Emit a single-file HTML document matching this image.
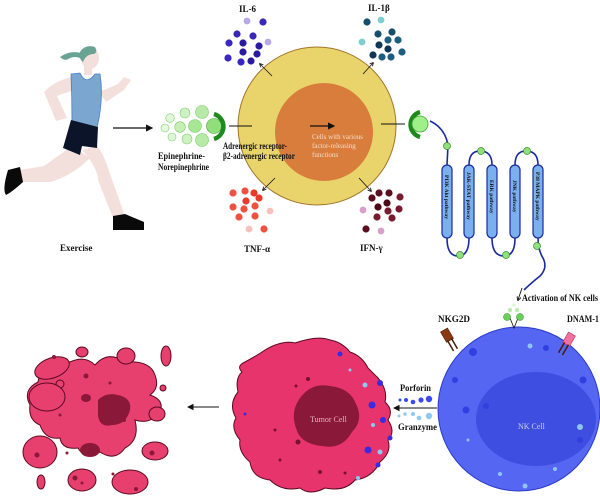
<!DOCTYPE html>
<html><head><meta charset="utf-8"><style>
html,body{margin:0;padding:0;background:#fff;width:600px;height:501px;overflow:hidden}
svg{display:block}
.l{font-family:"Liberation Serif",serif;font-weight:bold;font-size:9px;fill:#111}
</style></head><body>
<svg width="600" height="501" viewBox="0 0 600 501" xmlns="http://www.w3.org/2000/svg">
<defs>
<marker id="ah" markerWidth="6" markerHeight="6" refX="5" refY="3" orient="auto"><path d="M0,0 L6,3 L0,6 z" fill="#111"/></marker>
<marker id="as" markerWidth="5" markerHeight="5" refX="4" refY="2.5" orient="auto"><path d="M0,0 L5,2.5 L0,5" fill="none" stroke="#111" stroke-width="1"/></marker>
</defs>

<!-- runner -->
<g>
<path d="M72,146 Q55,158 44,166 L20,170 L22,182 L50,182 Q72,176 90,158 Z" fill="#f3e0dc"/>
<path d="M82,150 Q98,168 98,180 L113,218 L125,216 L110,174 Q104,154 97,146 Z" fill="#f3e0dc"/>
<path d="M76,76 Q55,80 44,92 L56,121 L67,118 L57,96 Q70,91 82,88 Z" fill="#f3e0dc"/>
<path d="M99,92 L106,102 L124,90 L131,80 L124,77 L118,84 L104,90 Z" fill="#f3e0dc"/>
<rect x="84" y="60" width="8" height="15" fill="#f3e0dc"/>
<ellipse cx="90" cy="58" rx="9" ry="11" fill="#f3e0dc"/>
<path d="M80,52 Q85,44 95,47 Q98,52 94,54 Q86,54 83,62 Q78,58 80,52 Z" fill="#6aa394"/>
<path d="M81,53 Q70,50 60,57 Q65,62 70,58 Q75,56 80,58 Z" fill="#6aa394"/>
<path d="M71,74 L80,73 Q86,86 95,74 L100,74 Q104,98 97,128 L72,122 Q72,98 71,74 Z" fill="#7aa6cf" stroke="#4a7fc4" stroke-width="0.8"/>
<path d="M71,120 L98,127 L97,148 L82,146 L80,155 L63,148 Z" fill="#0b1428"/>
<path d="M8,170 L20,167 L23,182 Q12,192 6,195 Q2,190 8,170 Z" fill="#0a0a0a"/>
<path d="M113,216 L125,214 L144,222 L144,230 L113,230 Z" fill="#0a0a0a"/>
</g>
<text class="l" x="60" y="251">Exercise</text>
<line x1="113" y1="128" x2="152" y2="128" stroke="#111" stroke-width="1.2" marker-end="url(#ah)"/>

<!-- main cell -->
<circle cx="317" cy="126" r="79" fill="#e8d46a" stroke="#a4752a" stroke-width="1"/>
<circle cx="324" cy="132" r="49" fill="#d97d3c"/>
<line x1="310" y1="126" x2="334" y2="126" stroke="#111" stroke-width="1.2" marker-end="url(#ah)"/>
<g font-family="Liberation Serif,serif" font-size="7" fill="#f5dcc8">
<text x="312" y="139">Cells with various</text>
<text x="312" y="148">factor-releasing</text>
<text x="312" y="157">functions</text>
</g>

<!-- epinephrine -->
<g stroke="#7ccf6a" stroke-width="0.6">
<circle cx="202" cy="112" r="6.5" fill="#b6eaa6"/>
<circle cx="185" cy="113" r="5" fill="#cdf1c0"/>
<circle cx="170" cy="118" r="4.3" fill="#e0f6d8"/>
<circle cx="195" cy="126" r="6.5" fill="#a8e695"/>
<circle cx="180" cy="127" r="5.3" fill="#c5efb7"/>
<circle cx="165" cy="128" r="4" fill="#e6f8e0"/>
<circle cx="202" cy="140" r="6.5" fill="#b6eaa6"/>
<circle cx="187" cy="139" r="5" fill="#cdf1c0"/>
<circle cx="172" cy="137" r="4" fill="#e0f6d8"/>
<circle cx="214" cy="126" r="7.5" fill="#8fe07c" stroke="#4aa33a"/>
</g>
<path d="M214,114 A13,13 0 0 1 214,139" fill="none" stroke="#1e8a1e" stroke-width="4.5"/>
<line x1="229" y1="126" x2="252" y2="126" stroke="#111" stroke-width="1"/>
<text class="l" x="223" y="149" textLength="64" lengthAdjust="spacingAndGlyphs">Adrenergic receptor-</text>
<text class="l" x="223" y="159" textLength="72" lengthAdjust="spacingAndGlyphs">β2-adrenergic receptor</text>
<text class="l" x="158" y="159" textLength="47" lengthAdjust="spacingAndGlyphs">Epinephrine-</text>
<text class="l" x="158" y="170" textLength="51" lengthAdjust="spacingAndGlyphs">Norepinephrine</text>

<line x1="381" y1="124" x2="405" y2="124" stroke="#111" stroke-width="1"/>
<path d="M420,112 A13,13 0 0 0 420,137" fill="none" stroke="#1e8a1e" stroke-width="4.5"/>
<circle cx="420" cy="124" r="8" fill="#9ff08a" stroke="#4aa33a" stroke-width="0.8"/>

<!-- cytokine arrows -->
<g stroke="#111" stroke-width="0.8">
<line x1="272" y1="76" x2="260" y2="64" marker-end="url(#as)"/>
<line x1="363" y1="74" x2="373" y2="63" marker-end="url(#as)"/>
<line x1="275" y1="178" x2="263" y2="190" marker-end="url(#as)"/>
<line x1="359" y1="178" x2="371" y2="191" marker-end="url(#as)"/>
</g>
<text class="l" x="239" y="12" font-size="10">IL-6</text>
<text class="l" x="368" y="11" font-size="10">IL-1β</text>
<text class="l" x="244" y="252" font-size="10">TNF-α</text>
<text class="l" x="360" y="251" font-size="10">IFN-γ</text>

<g>
<circle cx="247" cy="21" r="3.4" fill="#b7a8e6"/><circle cx="263" cy="22" r="3.6" fill="#3a26b8"/>
<circle cx="237" cy="34" r="3.6" fill="#3a26b8"/><circle cx="253" cy="36" r="3.6" fill="#3a26b8"/>
<circle cx="268" cy="42" r="3.4" fill="#b7a8e6"/><circle cx="229" cy="43" r="3.6" fill="#3a26c4"/>
<circle cx="243" cy="43" r="3.6" fill="#2a1a9e"/><circle cx="259" cy="46" r="3.6" fill="#2a1a9e"/>
<circle cx="243" cy="52" r="3.6" fill="#2a1a9e"/><circle cx="228" cy="58" r="3.6" fill="#3a26c4"/>
<circle cx="241" cy="62" r="3.6" fill="#3a26c4"/><circle cx="251" cy="61" r="3.6" fill="#2a1a9e"/>
<circle cx="257" cy="54" r="3.6" fill="#2a1a9e"/>
</g>
<g>
<circle cx="367" cy="22" r="3.6" fill="#174e6e"/><circle cx="381" cy="20" r="3.4" fill="#7ccfcf"/>
<circle cx="378" cy="34" r="3.6" fill="#174e6e"/><circle cx="392" cy="32" r="3.6" fill="#174e6e"/>
<circle cx="362" cy="42" r="3.4" fill="#7ccfcf"/><circle cx="388" cy="40" r="3.6" fill="#1d5d80"/>
<circle cx="398" cy="40" r="3.6" fill="#1d5d80"/><circle cx="379" cy="45" r="3.6" fill="#0f3558"/>
<circle cx="388" cy="49" r="3.6" fill="#0f3558"/><circle cx="402" cy="52" r="3.6" fill="#1d5d80"/>
<circle cx="373" cy="55" r="3.6" fill="#0f3558"/><circle cx="382" cy="57" r="3.6" fill="#1d5d80"/>
<circle cx="391" cy="57" r="3.6" fill="#1d5d80"/>
</g>
<g>
<circle cx="233" cy="193" r="3.6" fill="#f05040"/><circle cx="245" cy="191" r="3.6" fill="#f05040"/>
<circle cx="254" cy="193" r="3.6" fill="#e83a2a"/><circle cx="259" cy="198" r="3.6" fill="#e83a2a"/>
<circle cx="246" cy="201" r="3.6" fill="#e83a2a"/><circle cx="233" cy="207" r="3.6" fill="#f05040"/>
<circle cx="244" cy="209" r="3.6" fill="#f05040"/><circle cx="255" cy="206" r="3.6" fill="#f05040"/>
<circle cx="239" cy="217" r="3.6" fill="#f05040"/><circle cx="255" cy="216" r="3.6" fill="#f05040"/>
<circle cx="270" cy="211" r="3.4" fill="#f7c0bc"/><circle cx="249" cy="229" r="3.4" fill="#f7c0bc"/>
<circle cx="264" cy="229" r="3.6" fill="#f05040"/>
</g>
<g>
<circle cx="379" cy="193" r="3.6" fill="#5a0e1e"/><circle cx="389" cy="193" r="3.6" fill="#5a0e1e"/>
<circle cx="400" cy="197" r="3.6" fill="#7a1a30"/><circle cx="372" cy="198" r="3.6" fill="#5a0e1e"/>
<circle cx="387" cy="203" r="3.6" fill="#4a0a18"/><circle cx="378" cy="207" r="3.6" fill="#4a0a18"/>
<circle cx="388" cy="211" r="3.6" fill="#7a1a30"/><circle cx="399" cy="209" r="3.6" fill="#7a1a30"/>
<circle cx="363" cy="210" r="3.4" fill="#d8a0c8"/><circle cx="377" cy="217" r="3.6" fill="#7a1a30"/>
<circle cx="392" cy="218" r="3.6" fill="#7a1a30"/><circle cx="366" cy="229" r="3.6" fill="#5a0e1e"/>
<circle cx="381" cy="231" r="3.4" fill="#d8a0c8"/>
</g>

<!-- pathways -->
<g fill="none" stroke="#1a2a9e" stroke-width="1.6">
<path d="M430,121 Q445,128 448,145 L447,165"/>
<path d="M447,238 Q447,256 458,256 Q469,256 469,238"/>
<path d="M469,165 Q469,151 480,151 Q492,151 492,165"/>
<path d="M492,238 Q492,256 504,256 Q515,256 515,238"/>
<path d="M515,165 Q515,151 526,151 Q538,151 538,165"/>
<path d="M538,238 Q538,250 543,258 Q548,268 540,276 Q530,284 524,290"/>
<path d="M522,288 L518,300" stroke="#111" stroke-width="0.9" marker-end="url(#as)"/>
</g>
<g fill="#7ab0ee" stroke="#1a2a9e" stroke-width="1.2">
<rect x="442" y="165" width="10" height="73" rx="5"/>
<rect x="464" y="165" width="10" height="73" rx="5"/>
<rect x="487" y="165" width="10" height="73" rx="5"/>
<rect x="510" y="165" width="10" height="73" rx="5"/>
<rect x="533" y="165" width="10" height="73" rx="5"/>
</g>
<g font-family="Liberation Serif,serif" font-weight="bold" font-size="5.5" fill="#111">
<text transform="translate(445,175) rotate(90)">PI3K Akt pathway</text>
<text transform="translate(467,172) rotate(90)">JAK-STAT pathway</text>
<text transform="translate(490,180) rotate(90)">ERK pathway</text>
<text transform="translate(513,180) rotate(90)">JNK pathway</text>
<text transform="translate(536,172) rotate(90)">P38 MAPK pathway</text>
</g>
<g fill="#8fe07c" stroke="#3a8a2a" stroke-width="0.7">
<circle cx="447" cy="146" r="3.5"/><circle cx="481" cy="151" r="3.5"/><circle cx="527" cy="151" r="3.5"/>
<circle cx="460" cy="255" r="3.5"/><circle cx="506" cy="255" r="3.5"/><circle cx="537" cy="246" r="3.5"/>
</g>
<text class="l" x="522" y="301" font-size="8.5" textLength="76" lengthAdjust="spacingAndGlyphs">Activation of NK cells</text>

<!-- NK cell -->
<ellipse cx="519" cy="409" rx="81" ry="82" fill="#5566f2" stroke="#2d3cc8" stroke-width="1"/>
<ellipse cx="536" cy="419" rx="60" ry="47" fill="#3e4ee0"/>
<g fill="#3040e0"><circle cx="473" cy="352" r="4"/><circle cx="546" cy="348" r="3"/><circle cx="583" cy="380" r="3.5"/><circle cx="466" cy="410" r="3.5"/><circle cx="455" cy="380" r="3"/><circle cx="486" cy="406" r="3"/><circle cx="580" cy="440" r="3"/></g>
<g fill="#8fc4f4"><circle cx="530" cy="346" r="2.5"/><circle cx="580" cy="427" r="3"/><circle cx="555" cy="469" r="2"/><circle cx="500" cy="474" r="2"/><circle cx="468" cy="440" r="1.5"/><circle cx="525" cy="486" r="2.5"/></g>
<text x="518" y="429" font-family="Liberation Serif,serif" font-size="8" fill="#c8d0ff">NK Cell</text>
<g transform="translate(444,330) rotate(-30)"><rect x="-4" y="0" width="8" height="12" fill="#8a3a10" stroke="#4a1a08" stroke-width="0.6"/><rect x="-3" y="11" width="1.5" height="12" fill="#4a1a08"/><rect x="1.5" y="11" width="1.5" height="12" fill="#4a1a08"/></g>
<g transform="translate(572,334) rotate(30)"><rect x="-4" y="0" width="8" height="12" fill="#f070a0" stroke="#b03060" stroke-width="0.6"/><rect x="-3" y="11" width="1.5" height="12" fill="#4a1a08"/><rect x="1.5" y="11" width="1.5" height="12" fill="#4a1a08"/></g>
<g><path d="M510,318 L514,328 L518,318" fill="none" stroke="#111" stroke-width="0.8"/><circle cx="507" cy="317" r="3.5" fill="#6ad05a" stroke="#2a7a2a" stroke-width="0.5"/><circle cx="520" cy="317" r="3.5" fill="#6ad05a" stroke="#2a7a2a" stroke-width="0.5"/><circle cx="510" cy="310" r="2" fill="#b6eaa6"/><circle cx="517" cy="310" r="2" fill="#b6eaa6"/><circle cx="514" cy="305" r="1.8" fill="#dff6d8"/></g>
<text class="l" x="438" y="322" textLength="32" lengthAdjust="spacingAndGlyphs">NKG2D</text>
<text class="l" x="567" y="322" textLength="32" lengthAdjust="spacingAndGlyphs">DNAM-1</text>

<!-- porforin/granzyme -->
<text class="l" x="400" y="391" textLength="31" lengthAdjust="spacingAndGlyphs">Porforin</text>
<text class="l" x="398" y="430" textLength="39" lengthAdjust="spacingAndGlyphs">Granzyme</text>
<line x1="437" y1="408" x2="394" y2="408" stroke="#111" stroke-width="1.1" marker-end="url(#ah)"/>
<g fill="#3a4af0"><circle cx="400" cy="400" r="1.5"/><circle cx="406" cy="400" r="2"/><circle cx="413" cy="402" r="2.3"/><circle cx="421" cy="400" r="2.6"/><circle cx="429" cy="399" r="3.2"/></g>
<g fill="#8ec8f4"><circle cx="399" cy="416" r="1.5"/><circle cx="405" cy="414" r="1.7"/><circle cx="413" cy="414" r="2"/><circle cx="419" cy="418" r="2.3"/><circle cx="429" cy="416" r="3.2"/></g>

<!-- tumor cell -->
<path d="M245,362 Q258,355 265,350 Q282,340 295,343 Q318,335 330,340 Q342,342 350,352 Q362,356 368,368 Q372,372 378,378 Q388,390 385,402 Q394,410 388,420 Q396,432 388,440 Q392,452 380,462 Q372,478 355,480 Q345,492 325,488 Q310,496 300,488 Q282,492 270,480 Q252,478 250,462 Q238,452 240,440 Q230,428 236,418 Q228,404 238,392 Q235,378 242,372 Q236,366 245,362 Z" fill="#e8346c" stroke="#5a0a20" stroke-width="1"/>
<path d="M300,398 Q312,382 330,386 Q350,388 356,404 Q364,420 352,432 Q342,450 322,446 Q300,444 296,428 Q290,412 300,398 Z" fill="#8a1838"/>
<text x="310" y="422" font-family="Liberation Serif,serif" font-size="8" fill="#e8b0c0">Tumor Cell</text>
<g fill="#3a2ae0"><circle cx="380" cy="383" r="3"/><circle cx="372" cy="405" r="3.5"/><circle cx="383" cy="420" r="3"/><circle cx="368" cy="450" r="3.5"/><circle cx="378" cy="465" r="2.5"/><circle cx="340" cy="354" r="2.5"/><circle cx="390" cy="438" r="2.5"/><circle cx="245" cy="414" r="1.5"/></g>
<g fill="#8ec8f4"><circle cx="365" cy="385" r="2.5"/><circle cx="380" cy="452" r="2.5"/><circle cx="373" cy="425" r="2"/><circle cx="358" cy="478" r="2"/><circle cx="350" cy="370" r="1.5"/></g>
<g fill="#7a1030"><circle cx="308" cy="379" r="2"/><circle cx="296" cy="386" r="1.5"/><circle cx="275" cy="430" r="1.5"/><circle cx="298" cy="442" r="2.5"/><circle cx="320" cy="472" r="2"/><circle cx="280" cy="460" r="1.5"/><circle cx="345" cy="473" r="1.5"/></g>
<line x1="219" y1="407" x2="188" y2="407" stroke="#111" stroke-width="1.1" marker-end="url(#ah)"/>

<!-- debris -->
<g fill="#e8406e" stroke="#5a0a20" stroke-width="1">
<path d="M70,362 Q85,355 95,365 Q108,350 125,362 Q150,360 155,375 Q160,388 150,395 Q165,400 160,412 Q150,425 135,420 Q140,440 125,448 Q115,462 100,452 Q85,460 78,448 Q62,450 60,438 Q45,440 40,425 Q28,420 30,405 Q22,390 38,382 Q40,368 55,370 Q60,360 70,362 Z"/>
<ellipse cx="52" cy="368" rx="18" ry="10" transform="rotate(-20 52 368)"/>
<ellipse cx="82" cy="352" rx="6" ry="5"/>
<ellipse cx="126" cy="356" rx="9" ry="8"/>
<ellipse cx="166" cy="356" rx="5" ry="10"/>
<ellipse cx="60" cy="384" rx="4" ry="4"/>
<ellipse cx="163" cy="388" rx="3" ry="3"/>
<ellipse cx="157" cy="414" rx="8" ry="7"/>
<ellipse cx="155" cy="451" rx="13" ry="9"/>
<ellipse cx="40" cy="452" rx="17" ry="16"/>
<ellipse cx="41" cy="482" rx="4" ry="7"/>
<ellipse cx="130" cy="482" rx="18" ry="12"/>
<ellipse cx="82" cy="480" rx="14" ry="11"/>
<ellipse cx="47" cy="397" rx="18" ry="14"/>
</g>
<path d="M98,400 Q106,392 118,395 Q132,398 130,410 Q126,425 112,425 Q100,428 98,416 Z" fill="#8a1838"/>
<ellipse cx="90" cy="450" rx="10" ry="7" fill="#8a1838"/>
<ellipse cx="86" cy="398" rx="5" ry="4" fill="#8a1838"/>
<g fill="#8a1838"><circle cx="54" cy="357" r="2"/><circle cx="86" cy="376" r="2.5"/><circle cx="110" cy="383" r="1.5"/><circle cx="60" cy="415" r="1.5"/><circle cx="37" cy="455" r="2.5"/><circle cx="124" cy="420" r="2"/><circle cx="113" cy="474" r="1.5"/><circle cx="67" cy="453" r="1.5"/><circle cx="136" cy="489" r="2"/><circle cx="75" cy="478" r="2.5"/><circle cx="82" cy="483" r="1.5"/><circle cx="152" cy="453" r="2.5"/></g>
</svg>
</body></html>
